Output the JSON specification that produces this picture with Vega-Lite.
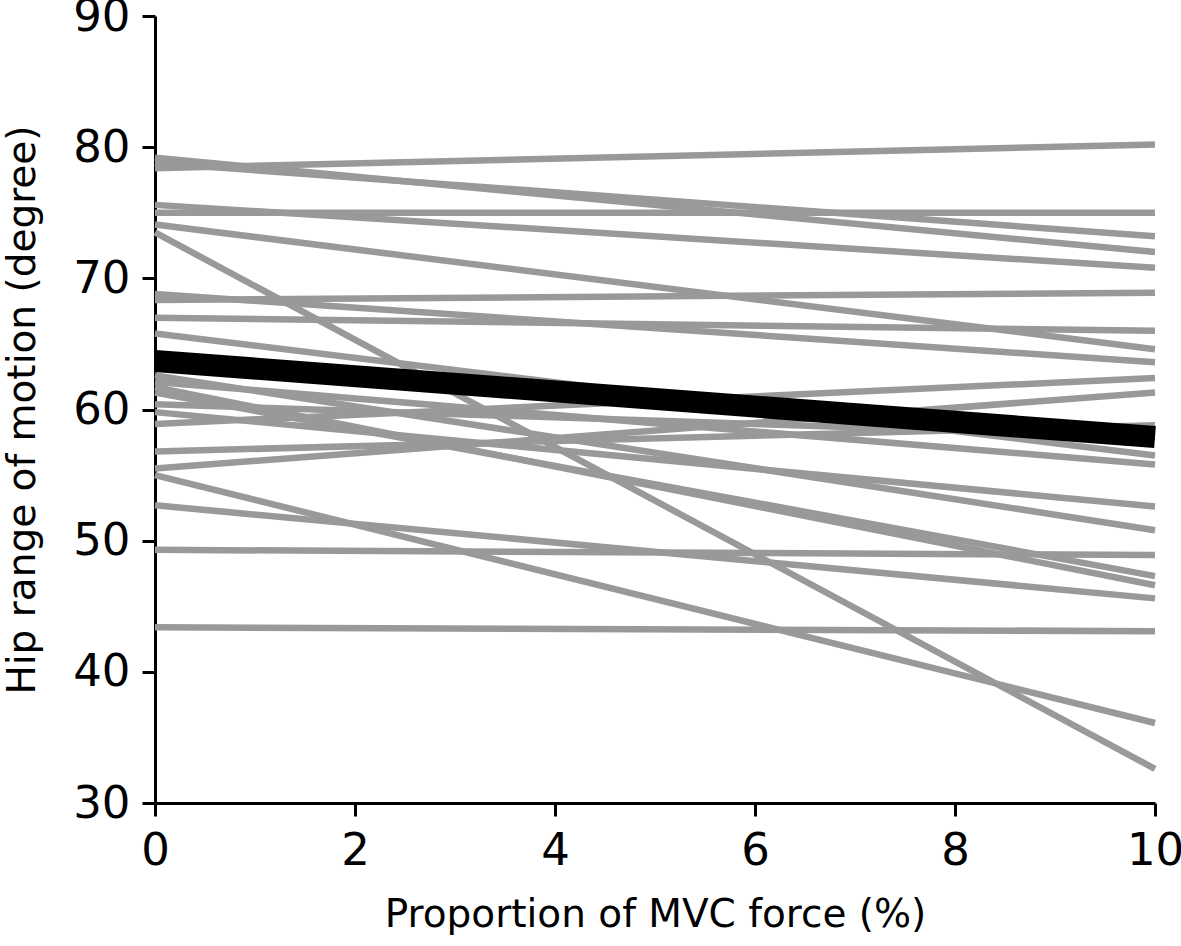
{
  "$schema": "https://vega.github.io/schema/vega-lite/v6.json",
  "width": 1000,
  "height": 787,
  "autosize": {"type": "none"},
  "padding": {"left": 155, "top": 16, "right": 26, "bottom": 143},
  "background": "white",
  "config": {
    "view": {"stroke": null},
    "axis": {
      "domainColor": "black", "domainWidth": 3,
      "tickColor": "black", "tickWidth": 3, "tickSize": 13,
      "labelFont": "DejaVu Sans", "labelFontSize": 45, "labelColor": "black", "labelFlush": false, "labelOverlap": false,
      "titleFont": "DejaVu Sans", "titleFontSize": 39, "titleFontWeight": "normal", "titleColor": "black",
      "grid": false
    }
  },
  "datasets": {
    "subjects": [
      {"id": 1, "force": 0, "rom": 78.4}, {"id": 1, "force": 10, "rom": 80.2},
      {"id": 2, "force": 0, "rom": 78.8}, {"id": 2, "force": 10, "rom": 73.2},
      {"id": 3, "force": 0, "rom": 79.2}, {"id": 3, "force": 10, "rom": 72.0},
      {"id": 4, "force": 0, "rom": 75.0}, {"id": 4, "force": 10, "rom": 75.0},
      {"id": 5, "force": 0, "rom": 75.6}, {"id": 5, "force": 10, "rom": 70.8},
      {"id": 6, "force": 0, "rom": 74.1}, {"id": 6, "force": 10, "rom": 64.6},
      {"id": 7, "force": 0, "rom": 73.5}, {"id": 7, "force": 10, "rom": 32.6},
      {"id": 8, "force": 0, "rom": 68.35}, {"id": 8, "force": 10, "rom": 68.9},
      {"id": 9, "force": 0, "rom": 68.8}, {"id": 9, "force": 10, "rom": 63.6},
      {"id": 10, "force": 0, "rom": 67.0}, {"id": 10, "force": 10, "rom": 66.0},
      {"id": 11, "force": 0, "rom": 65.8}, {"id": 11, "force": 10, "rom": 56.5},
      {"id": 12, "force": 0, "rom": 62.6}, {"id": 12, "force": 10, "rom": 50.8},
      {"id": 13, "force": 0, "rom": 62.1}, {"id": 13, "force": 10, "rom": 55.8},
      {"id": 14, "force": 0, "rom": 61.7}, {"id": 14, "force": 10, "rom": 46.6},
      {"id": 15, "force": 0, "rom": 61.3}, {"id": 15, "force": 10, "rom": 47.3},
      {"id": 16, "force": 0, "rom": 60.4}, {"id": 16, "force": 10, "rom": 57.9},
      {"id": 17, "force": 0, "rom": 59.8}, {"id": 17, "force": 10, "rom": 52.6},
      {"id": 18, "force": 0, "rom": 58.9}, {"id": 18, "force": 10, "rom": 62.4},
      {"id": 19, "force": 0, "rom": 56.8}, {"id": 19, "force": 10, "rom": 58.8},
      {"id": 20, "force": 0, "rom": 55.5}, {"id": 20, "force": 10, "rom": 61.3},
      {"id": 21, "force": 0, "rom": 55.0}, {"id": 21, "force": 10, "rom": 36.1},
      {"id": 22, "force": 0, "rom": 52.7}, {"id": 22, "force": 10, "rom": 45.6},
      {"id": 23, "force": 0, "rom": 49.3}, {"id": 23, "force": 10, "rom": 48.9},
      {"id": 24, "force": 0, "rom": 43.4}, {"id": 24, "force": 10, "rom": 43.1}
    ],
    "mean": [
      {"force": 0, "rom": 63.7}, {"force": 10, "rom": 57.9}
    ]
  },
  "layer": [
    {
      "data": {"name": "subjects"},
      "mark": {"type": "line", "color": "#999999", "strokeWidth": 6.5, "strokeCap": "butt"},
      "encoding": {
        "x": {"field": "force", "type": "quantitative",
              "scale": {"domain": [0, 10], "nice": false, "zero": false},
              "axis": {"values": [0, 2, 4, 6, 8, 10], "format": "d", "title": "Proportion of MVC force (%)", "labelPadding": 12, "titlePadding": 22}},
        "y": {"field": "rom", "type": "quantitative",
              "scale": {"domain": [30, 90], "nice": false, "zero": false},
              "axis": {"values": [30, 40, 50, 60, 70, 80, 90], "format": "d", "title": "Hip range of motion (degree)", "labelPadding": 12, "titlePadding": 30}},
        "detail": {"field": "id", "type": "nominal"}
      }
    },
    {
      "data": {"name": "mean"},
      "mark": {"type": "line", "color": "black", "strokeWidth": 22, "strokeCap": "butt"},
      "encoding": {
        "x": {"field": "force", "type": "quantitative"},
        "y": {"field": "rom", "type": "quantitative"}
      }
    }
  ]
}
